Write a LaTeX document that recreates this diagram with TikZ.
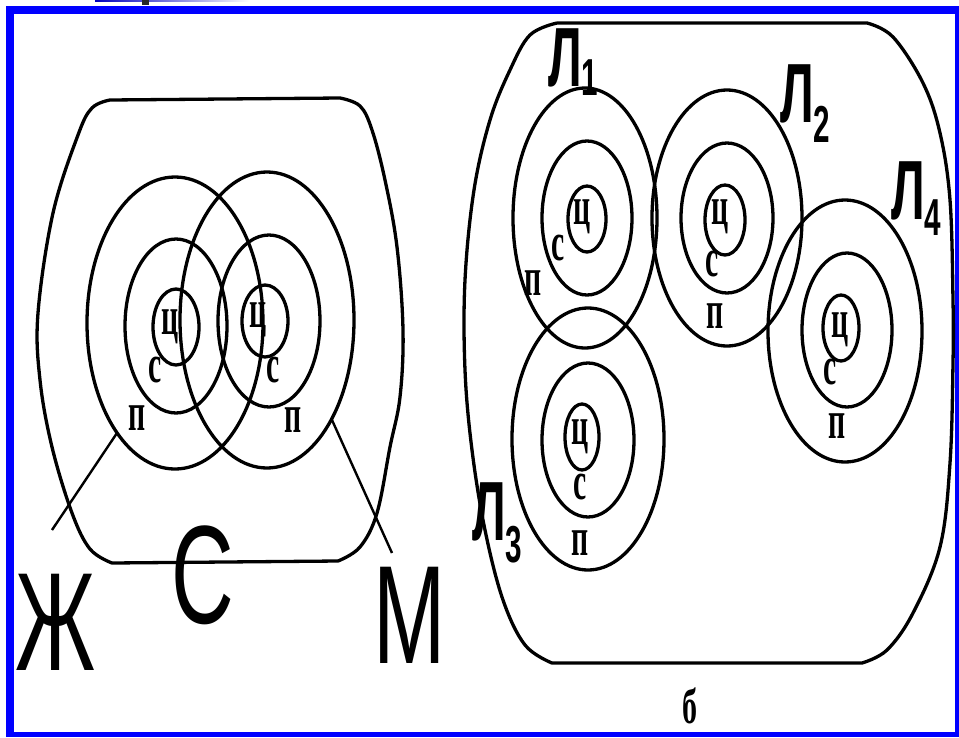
\documentclass[tikz,border=0pt]{standalone}
\usepackage{fontspec}
\setmainfont{Liberation Serif}
\newfontfamily\arialf{Liberation Sans}
\newcommand{\mySmall}{\bfseries\fontsize{54}{54}\selectfont}
\newcommand{\myB}{\bfseries\fontsize{50}{50}\selectfont}
\newcommand{\myBig}{\arialf\fontsize{140}{140}\selectfont}
\newcommand{\myL}{\arialf\bfseries\fontsize{84}{84}\selectfont}
\newcommand{\myLsub}{\arialf\bfseries\fontsize{52}{52}\selectfont}
\begin{document}
\begin{tikzpicture}[x=1pt,y=-1pt,line join=round,
  ring/.style={line width=3.3pt},
  outline/.style={line width=3.3pt},
  leader/.style={line width=2.4pt},
  sm/.style={font=\mySmall, xscale=0.55, inner sep=0pt},
  big/.style={font=\myBig, xscale=0.62, inner sep=0pt},
  lname/.style={font=\myL, xscale=0.57, inner sep=0pt, anchor=base west}]
\useasboundingbox (0,0) rectangle (959,737);
\fill[white] (0,0) rectangle (959,737);
% cut-off title remnants at the top
\shade[left color=blue!75!black, right color=white] (95,0) rectangle (250,1.5);
\fill[black!85] (142,0) rectangle (149,5);
% blue frame
\fill[blue] (6,6) rectangle (959,14);
\fill[blue] (6,6) rectangle (14,737);
\fill[blue] (955,6) rectangle (959,737);
\fill[blue] (6,732) rectangle (959,737);

% ---------- left panel ----------
\draw[outline] (110,100) -- (340,98) -- plot[smooth, tension=0.6] coordinates {(340,98) (360,106) (372,130) (385,180) (397,247) (403,330) (400,397) (390,447) (377,513) (360,547) (338,561)} -- (112,563) -- plot[smooth, tension=0.6] coordinates {(112,563) (90,549) (72,513) (52,447) (40,380) (38,313) (53,213) (78,135) (92,108) (110,100)};

\draw[ring] (175,323) ellipse [x radius=88, y radius=146];
\draw[ring] (267,320) ellipse [x radius=87, y radius=148];
\draw[ring] (176,326) ellipse [x radius=51, y radius=87];
\draw[ring] (269,321) ellipse [x radius=51, y radius=86];
\draw[ring] (176,327) ellipse [x radius=23, y radius=38];
\draw[ring] (265,321) ellipse [x radius=23, y radius=36];

\node[sm] (lc1) at (170,327) {ц};
\node[sm] (lc2) at (258,320) {ц};
\node[sm] (ls1) at (155,370) {с};
\node[sm] (ls2) at (273,370) {с};
\node[sm] (lp1) at (137,418) {п};
\node[sm] (lp2) at (293,420) {п};

\coordinate (zh1) at (117,433);
\coordinate (zh2) at (52,530);
\coordinate (m1) at (332,420);
\coordinate (m2) at (392,553);
\draw[leader] (zh1) -- (zh2);
\draw[leader] (m1) -- (m2);

\node[big] (zh) at (56,622) {Ж};
\node[big] (cc) at (203,575) {С};
\node[big] (mm) at (410,615) {М};

% ---------- right panel ----------
\draw[outline] (557,23) -- (867,23) -- plot[smooth, tension=0.6] coordinates {(867,23) (893,37) (923,83) (940,133) (950,200) (953,300) (953,363) (950,463) (940,547) (913,613) (887,650) (862,663)} -- (552,663) -- plot[smooth, tension=0.6] coordinates {(552,663) (525,645) (503,600) (485,530) (472,450) (465,370) (465,280) (474,190) (490,120) (510,70) (530,35) (557,23)};

% L1
\draw[ring] (585,218) ellipse [x radius=72, y radius=130];
\draw[ring] (587,218) ellipse [x radius=45, y radius=77];
\draw[ring] (587,219) ellipse [x radius=19, y radius=33];
% L2
\draw[ring] (727,218) ellipse [x radius=75, y radius=128];
\draw[ring] (727,218) ellipse [x radius=46, y radius=75];
\draw[ring] (725,220) ellipse [x radius=20, y radius=35];
% L3
\draw[ring] (588,439) ellipse [x radius=76, y radius=131];
\draw[ring] (588,440) ellipse [x radius=46, y radius=77];
\draw[ring] (582,437) ellipse [x radius=17, y radius=33];
% L4
\draw[ring] (845,331) ellipse [x radius=77, y radius=131];
\draw[ring] (847,330) ellipse [x radius=45, y radius=77];
\draw[ring] (841,328) ellipse [x radius=18, y radius=33];

\node[sm] (c1) at (582,217) {ц};
\node[sm] (s1) at (558,248) {с};
\node[sm] (p1) at (533,283) {п};
\node[sm] (c2) at (720,217) {ц};
\node[sm] (s2) at (712,264) {с};
\node[sm] (p2) at (715,316) {п};
\node[sm] (c3) at (580,437) {ц};
\node[sm] (s3) at (580,487) {с};
\node[sm] (p3) at (580,543) {п};
\node[sm] (c4) at (840,330) {ц};
\node[sm] (s4) at (830,372) {с};
\node[sm] (p4) at (837,426) {п};

\node[lname] (L1) at (548,86) {Л\raisebox{-9pt}{\myLsub 1}};
\node[lname] (L2) at (780,122) {Л\raisebox{-20pt}{\myLsub 2}};
\node[lname] (L4) at (891,219) {Л\raisebox{-16pt}{\myLsub 4}};
\node[lname] (L3) at (472,540) {Л\raisebox{-22pt}{\myLsub 3}};

\node[font=\myB, xscale=0.6, inner sep=0pt] (b) at (690,706) {б};
\end{tikzpicture}
\end{document}
